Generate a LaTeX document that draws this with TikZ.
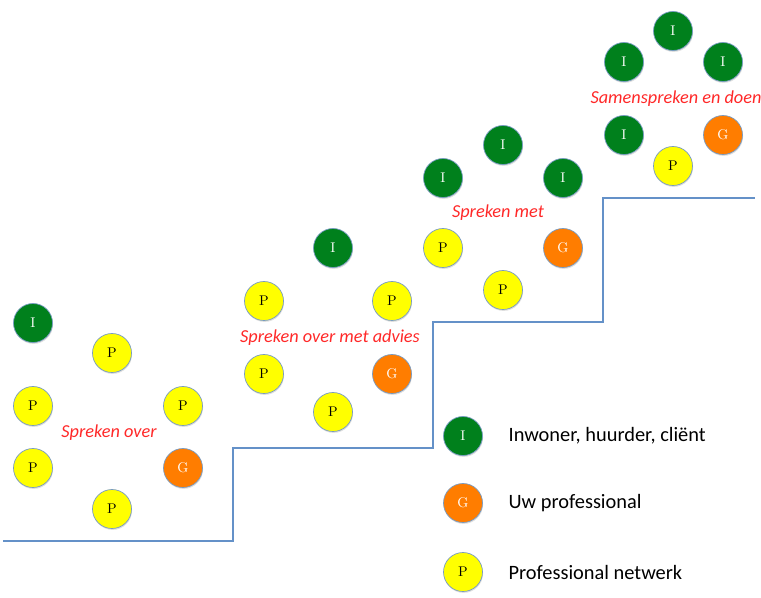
\documentclass[tikz,border=0pt]{standalone}
\usepackage{fontspec}
\setsansfont{Carlito}
\usepackage{tikz}
\usetikzlibrary{positioning,shadows}

\definecolor{ink}{RGB}{0,128,28}
\definecolor{prof}{RGB}{255,125,0}
\definecolor{netw}{RGB}{255,255,0}
\definecolor{rim}{RGB}{120,155,195}
\definecolor{stair}{RGB}{100,145,200}
\definecolor{lbl}{RGB}{255,40,40}

\begin{document}
\begin{tikzpicture}[
  x=0.025cm, y=-0.025cm,
  pers/.style={circle,draw=rim,line width=0.5pt,minimum size=0.975cm,
               inner sep=0pt,font=\fontsize{10}{11}\selectfont,
               drop shadow={opacity=0.25,shadow xshift=0.4pt,shadow yshift=-1pt}},
  inw/.style={pers,fill=ink,text=white},
  uwp/.style={pers,fill=prof,text=white},
  net/.style={pers,fill=netw,text=black},
  phase/.style={font=\sffamily\itshape\fontsize{13}{15}\selectfont,text=lbl},
  legtxt/.style={font=\sffamily\fontsize{14.5}{16}\selectfont}
]
\useasboundingbox (0,0) rectangle (761,597);
% --- staircase ---
\draw[stair,line width=1.5pt] (3,541) -- (233,541) -- (233,448) -- (433,448)
  -- (433,322) -- (603,322) -- (603,198) -- (755,198);
% --- step 1: spreken over ---
\node[inw] (a1) at (33,323)  {I};
\node[net] (a2) at (112,353) {P};
\node[net] (a3) at (33,406)  {P};
\node[net] (a4) at (183,406) {P};
\node[net] (a5) at (33,468)  {P};
\node[uwp] (a6) at (183,468) {G};
\node[net] (a7) at (112,509) {P};
\node[phase] (s1) at (109,433) {Spreken over};
% --- step 2: spreken over met advies ---
\node[inw] (b1) at (333,248) {I};
\node[net] (b2) at (264,301) {P};
\node[net] (b3) at (392,301) {P};
\node[net] (b4) at (264,374) {P};
\node[uwp] (b5) at (392,374) {G};
\node[net] (b6) at (333,412) {P};
\node[phase] (s2) at (330,338) {Spreken over met advies};
% --- step 3: spreken met ---
\node[inw] (c1) at (503,145) {I};
\node[inw] (c2) at (443,178) {I};
\node[inw] (c3) at (563,178) {I};
\node[net] (c4) at (443,248) {P};
\node[uwp] (c5) at (563,248) {G};
\node[net] (c6) at (503,290) {P};
\node[phase] (s3) at (498,213) {Spreken met};
% --- step 4: samenspreken en doen ---
\node[inw] (d1) at (673,31)  {I};
\node[inw] (d2) at (624,62)  {I};
\node[inw] (d3) at (723,62)  {I};
\node[inw] (d4) at (624,135) {I};
\node[uwp] (d5) at (723,135) {G};
\node[net] (d6) at (673,166) {P};
\node[phase] (s4) at (676,99) {Samenspreken en doen};
% --- legend ---
\node[inw] (li) at (463,436) {I};
\node[uwp] (lg) at (463,503) {G};
\node[net] (lp) at (463,572) {P};
\node[legtxt,right=0.52cm of li] (ti) {Inwoner, huurder, cliënt};
\node[legtxt,right=0.52cm of lg] (tg) {Uw professional};
\node[legtxt,right=0.52cm of lp] (tp) {Professional netwerk};
\end{tikzpicture}
\end{document}
